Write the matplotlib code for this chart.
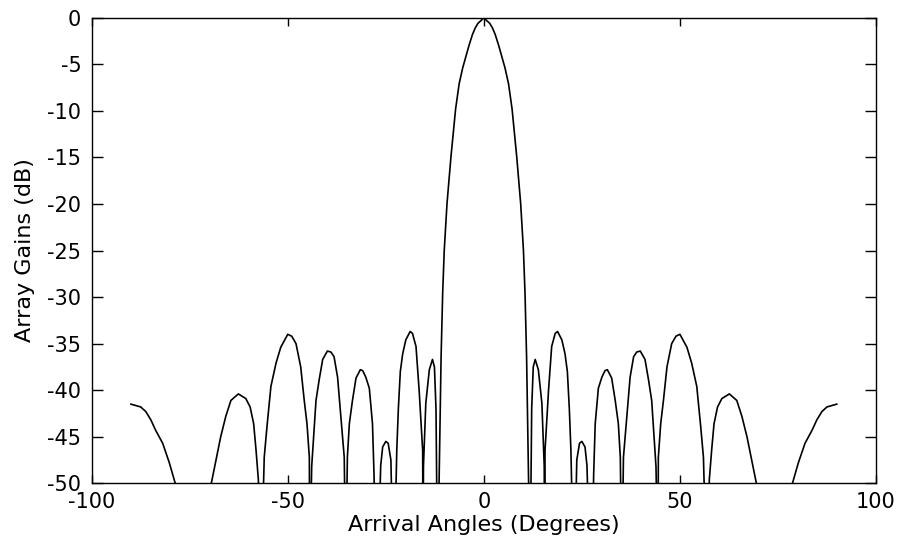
import matplotlib
matplotlib.use("Agg")
import matplotlib.pyplot as plt

# Array gain pattern (degrees, dB)
angles_left = [
    -90.0, -87.5, -86.2, -84.9, -83.7, -81.9, -80.2, -78.7,
    -74.0, -69.5, -68.3, -67.1, -65.8, -64.5, -62.6, -60.7, -59.6, -58.7, -58.1, -57.5,
    -56.8, -56.0, -55.3, -54.3, -53.0, -51.8, -50.0, -49.0, -47.9, -46.7, -45.8, -45.1, -44.5,
    -44.4, -43.9, -43.4, -42.8, -42.0, -41.1, -39.9, -39.0, -38.2, -37.3, -36.5, -35.6,
    -35.2, -34.8, -34.3, -33.5, -32.6, -31.5, -30.9, -30.1, -29.2, -28.4, -28.0,
    -27.4, -26.3, -25.8, -25.0, -24.4, -23.7,
    -23.0, -22.2, -21.8, -21.3, -20.7, -19.9, -18.8, -18.2, -17.3, -16.5, -15.6,
    -15.5, -15.4, -14.8, -13.9, -13.1, -12.6, -12.2,
    -11.8, -10.9, -10.5, -10.1, -9.4, -8.4, -7.2, -6.3, -5.4, -4.6, -3.8, -2.9, -2.2, -1.5, -0.7,
]
gains_left = [
    -41.5, -41.8, -42.3, -43.2, -44.3, -45.7, -47.8, -50.0,
    -70.0, -50.0, -47.5, -45.0, -42.8, -41.1, -40.4, -40.9, -41.8, -43.6, -46.4, -49.6,
    -60.0, -47.2, -43.9, -39.6, -37.1, -35.4, -34.0, -34.2, -35.0, -37.5, -41.1, -43.6, -47.2,
    -60.0, -48.2, -45.0, -41.1, -38.9, -36.7, -35.8, -35.9, -36.4, -38.6, -42.7, -47.2,
    -60.0, -47.2, -43.6, -41.1, -38.7, -37.8, -37.9, -38.6, -39.8, -43.6, -49.1,
    -65.0, -48.1, -46.1, -45.5, -45.7, -47.5,
    -62.0, -46.4, -42.0, -38.0, -36.1, -34.6, -33.7, -33.9, -35.3, -40.0, -46.5,
    -60.0, -48.2, -41.4, -37.8, -36.7, -37.5, -42.0,
    -60.0, -36.4, -29.6, -25.0, -20.0, -15.0, -9.8, -7.1, -5.4, -4.2, -3.0, -1.8, -1.1, -0.6, -0.3,
]
angles_right = [
    0.0, 0.7, 1.5, 2.2, 2.9, 3.8, 4.6, 5.4, 6.3, 7.2, 8.4, 9.4, 10.1, 10.5, 10.9, 11.8,
    12.2, 12.6, 13.1, 13.9, 14.8, 15.4, 15.5,
    15.6, 16.5, 17.3, 18.2, 18.8, 19.9, 20.7, 21.3, 21.8, 22.2, 23.0,
    23.7, 24.4, 25.0, 25.8, 26.3, 27.4,
    28.0, 28.4, 29.2, 30.1, 30.9, 31.5, 32.6, 33.5, 34.3, 34.8, 35.2,
    35.6, 36.5, 37.3, 38.2, 39.0, 39.9, 41.1, 42.0, 42.8, 43.4, 43.9, 44.4,
    44.5, 45.1, 45.8, 46.7, 47.9, 49.0, 50.0, 51.8, 53.0, 54.3, 55.3, 56.0, 56.8,
    57.5, 58.1, 58.7, 59.6, 60.7, 62.6, 64.5, 65.8, 67.1, 68.3, 69.5, 74.0,
    78.7, 80.2, 81.9, 83.7, 84.9, 86.2, 87.5, 90.0,
]
gains_right = [
    0.0, -0.3, -0.6, -1.1, -1.8, -3.0, -4.2, -5.4, -7.1, -9.8, -15.0, -20.0, -25.0, -29.6, -36.4, -60.0,
    -42.0, -37.5, -36.7, -37.8, -41.4, -48.2, -60.0,
    -46.5, -40.0, -35.3, -33.9, -33.7, -34.6, -36.1, -38.0, -42.0, -46.4, -62.0,
    -47.5, -45.7, -45.5, -46.1, -48.1, -65.0,
    -49.1, -43.6, -39.8, -38.6, -37.9, -37.8, -38.7, -41.1, -43.6, -47.2, -60.0,
    -47.2, -42.7, -38.6, -36.4, -35.9, -35.8, -36.7, -38.9, -41.1, -45.0, -48.2, -60.0,
    -47.2, -43.6, -41.1, -37.5, -35.0, -34.2, -34.0, -35.4, -37.1, -39.6, -43.9, -47.2, -60.0,
    -49.6, -46.4, -43.6, -41.8, -40.9, -40.4, -41.1, -42.8, -45.0, -47.5, -50.0, -70.0,
    -50.0, -47.8, -45.7, -44.3, -43.2, -42.3, -41.8, -41.5,
]

xticks = [-100, -50, 0, 50, 100]
yticks = [0, -5, -10, -15, -20, -25, -30, -35, -40, -45, -50]
xlabel = "Arrival Angles (Degrees)"
ylabel = "Array Gains (dB)"

plt.rcParams["font.family"] = ["DejaVu Sans"]
plt.rcParams["axes.unicode_minus"] = False

fig = plt.figure(figsize=(8.99, 5.42), dpi=100)
ax = fig.add_axes([0.102, 0.1083, 0.8724, 0.859])

ax.plot(angles_left + angles_right, gains_left + gains_right,
        color="black", lw=1.2, solid_joinstyle="round")

ax.set_xlim(-100, 100)
ax.set_ylim(-50, 0)
ax.set_xticks(xticks)
ax.set_yticks(yticks)
ax.tick_params(axis="both", direction="in", top=True, right=True,
               labelsize=15, colors="black", width=1)
ax.tick_params(axis="x", length=6, pad=6.5)
ax.tick_params(axis="y", length=8, pad=7.5)
for s in ax.spines.values():
    s.set_linewidth(1.0)
    s.set_color("black")

ax.set_xlabel(xlabel, fontsize=16, labelpad=2)
ax.set_ylabel(ylabel, fontsize=16, labelpad=9)

fig.savefig("out.png", dpi=100)
